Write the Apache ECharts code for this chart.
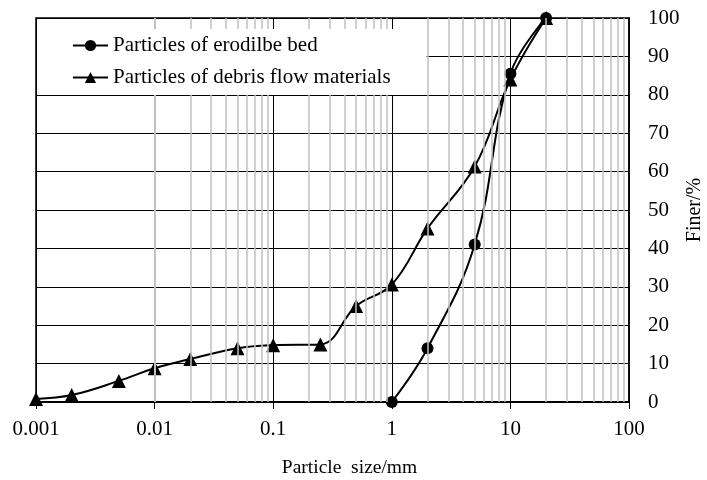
<!DOCTYPE html>
<html>
<head>
<meta charset="utf-8">
<script src="https://cdn.jsdelivr.net/npm/echarts@6/dist/echarts.min.js"></script>
<style>html,body{margin:0;padding:0;background:#fff;}#c{width:707px;height:480px;}</style>
</head>
<body>
<div id="c"></div>
<script>
var seriesNames = ['Particles of erodilbe bed', 'Particles of debris flow materials'];
var bedSizes = [1, 2, 5, 10, 20];
var bedFiner = [0, 14, 41, 85.5, 100];
var debrisSizes = [0.001, 0.002, 0.005, 0.01, 0.02, 0.05, 0.1, 0.25, 0.5, 1, 2, 5, 10, 20];
var debrisFiner = [0.8, 1.8, 5.5, 8.8, 11.2, 14, 14.8, 15, 25, 30.6, 45.2, 61.3, 84, 100];
var minorGridValues = [0.002,0.003,0.004,0.005,0.006,0.007,0.008,0.009,
  0.02,0.03,0.04,0.05,0.06,0.07,0.08,0.09,
  0.2,0.3,0.4,0.5,0.6,0.7,0.8,0.9,
  2,3,4,5,6,7,8,9,
  20,30,40,50,60,70,80,90];
var xAxisTitle = 'Particle  size/mm';
var yAxisTitle = 'Finer/%';

function zip(xs, ys){ return xs.map(function(x,i){ return [x, ys[i]]; }); }
var FONT = 'Liberation Serif';
var chart = echarts.init(document.getElementById('c'));
chart.setOption({
  animation: false,
  backgroundColor: '#fff',
  textStyle: { fontFamily: FONT, color: '#000' },
  grid: { left: 36, right: 78, top: 18, bottom: 78, show: true, borderColor: '#000', borderWidth: 1.5,
    backgroundColor: 'transparent', outerBoundsMode: 'none', containLabel: false },
  legend: {
    data: seriesNames,
    orient: 'vertical',
    left: 37, top: 29,
    zlevel: 1, z: 10,
    padding: [6, 36, 7, 35],
    itemGap: 11,
    itemWidth: 35, itemHeight: 14,
    backgroundColor: '#fff',
    textStyle: { fontFamily: FONT, fontSize: 21, color: '#000', lineHeight: 21 }
  },
  xAxis: {
    type: 'log', logBase: 10, min: 0.001, max: 100,
    name: xAxisTitle, nameLocation: 'middle', nameGap: 56, nameMoveOverlap: false,
    nameTextStyle: { fontFamily: FONT, fontSize: 19.5, color: '#000', padding: [0, 0, 0, 34] },
    axisLine: { show: true, lineStyle: { color: '#000', width: 2 } },
    axisTick: { show: true, length: 7, lineStyle: { color: '#000', width: 1 } },
    axisLabel: { fontFamily: FONT, fontSize: 21, color: '#000', margin: 17,
      formatter: function(v){ return String(+v.toPrecision(6)); } },
    splitLine: { show: true, lineStyle: { color: '#000', width: 1 } },
    minorTick: { show: false }, minorSplitLine: { show: false }
  },
  yAxis: {
    type: 'value', position: 'right', min: 0, max: 100, interval: 10,
    name: yAxisTitle, nameLocation: 'middle', nameRotate: 90, nameGap: 56, nameMoveOverlap: false,
    nameTextStyle: { fontFamily: FONT, fontSize: 20, color: '#000' },
    axisLine: { show: true, lineStyle: { color: '#000', width: 1.5 } },
    axisTick: { show: false },
    axisLabel: { fontFamily: FONT, fontSize: 21, color: '#000', margin: 19, align: 'left' },
    splitLine: { show: true, lineStyle: { color: '#000', width: 1 } }
  },
  series: [
    {
      name: 'minor', type: 'line', z: -1, data: [], silent: true,
      markLine: {
        silent: true, symbol: ['none', 'none'], label: { show: false },
        lineStyle: { color: '#c0c0c0', width: 1.5, type: 'solid' },
        data: minorGridValues.map(function(v){ return { xAxis: v }; })
      }
    },
    {
      name: seriesNames[0], type: 'line', data: zip(bedSizes, bedFiner),
      smooth: 0.4, symbol: 'circle', symbolSize: 12,
      itemStyle: { color: '#000' }, lineStyle: { color: '#000', width: 2 }
    },
    {
      name: seriesNames[1], type: 'line', data: zip(debrisSizes, debrisFiner),
      smooth: 0.4, symbol: 'triangle', symbolSize: 14,
      itemStyle: { color: '#000' }, lineStyle: { color: '#000', width: 2 }
    }
  ]
});
</script>
</body>
</html>
